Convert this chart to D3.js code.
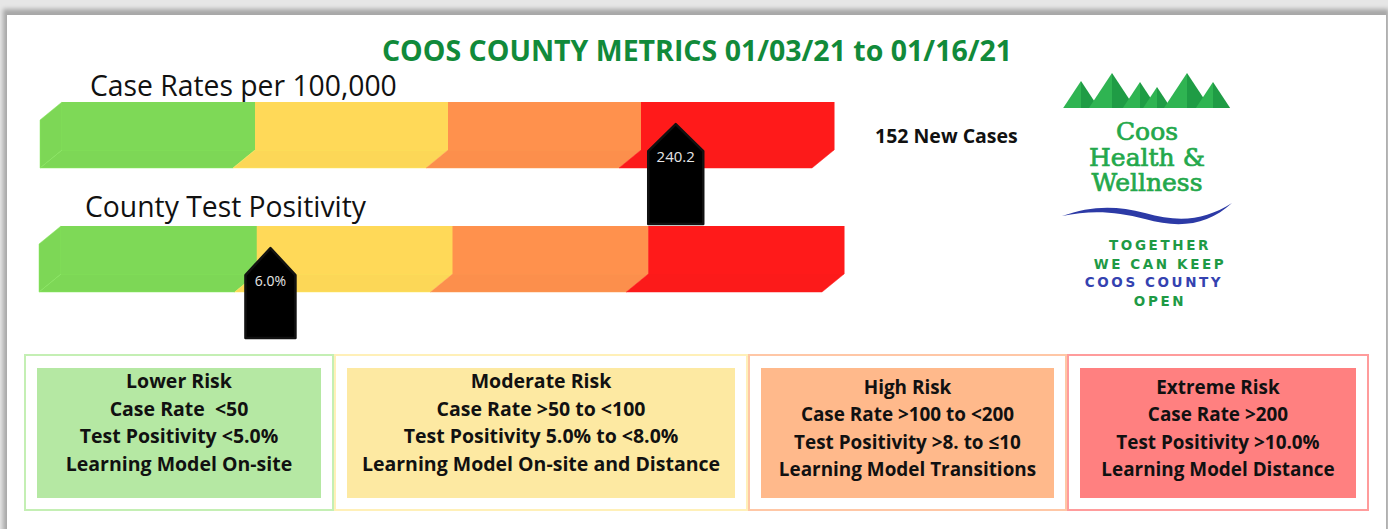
<!DOCTYPE html>
<html>
<head>
<meta charset="utf-8">
<script src="https://cdn.jsdelivr.net/npm/d3@7"></script>
<style>
  body { margin: 0; background: #e6e6e6; overflow: hidden; }
  svg { display: block; }
</style>
</head>
<body>
<div class="canvas"></div>
<script>
var width = 1388;
var height = 529;

// risk levels + colours
const riskLevels = ["Lower Risk", "Moderate Risk", "High Risk", "Extreme Risk"];
const barColors = ["#7ed957", "#ffd958", "#ff914d", "#ff1a1a"];
const boxFills = ["#b5e8a3", "#fde9a2", "#ffb98b", "#ff8080"];
const boxStrokes = ["#c4efb4", "#fff0b8", "#ffc7a6", "#ff9c9c"];

// rule text for each box
const caseRateRules = ["Case Rate  <50", "Case Rate >50 to <100", "Case Rate >100 to <200", "Case Rate >200"];
const positivityRules = ["Test Positivity <5.0%", "Test Positivity 5.0% to <8.0%", "Test Positivity >8. to \u226410", "Test Positivity >10.0%"];
const learningModels = ["Learning Model On-site", "Learning Model On-site and Distance", "Learning Model Transitions", "Learning Model Distance"];

// the two meters
const meterLabels = ["Case Rates per 100,000", "County Test Positivity"];
const meterValues = ["240.2", "6.0%"];
const meterLevels = ["Extreme Risk", "Moderate Risk"];
const meterPos = [0.18, 0.07];   // where the marker sits inside its band
const newCases = 152;

const title = "COOS COUNTY METRICS 01/03/21 to 01/16/21";

var svg = d3.select(".canvas").append("svg")
    .attr("width", width)
    .attr("height", height);

// card + shadow
var defs = svg.append("defs");
defs.append("filter").attr("id", "blur").append("feGaussianBlur").attr("stdDeviation", 2);
svg.append("rect").attr("x", 3).attr("y", 9).attr("width", 1386).attr("height", 540)
    .attr("fill", "#a8a8a8").attr("filter", "url(#blur)");
svg.append("rect").attr("x", 7).attr("y", 15).attr("width", 1379).attr("height", 530)
    .attr("fill", "#fff");

svg.append("text")
    .attr("x", 697).attr("y", 61)
    .attr("text-anchor", "middle")
    .style("font-family", "Open Sans").style("font-weight", 700).style("font-size", "28.5px")
    .attr("fill", "#118a3a")
    .text(title);

// meters
const meterRange = [[62, 834], [61, 844]];
const meterTop = [102, 226];
const labelPos = [[90, 96], [85, 217]];
const faceH = 48, dx = -22, dy = 18;
const markerW = [55, 50], markerH = [100, 90];

meterLabels.forEach((lab, i) => {
    var g = svg.append("g");
    var x = d3.scaleBand().domain(riskLevels).range(meterRange[i]);
    var color = d3.scaleOrdinal().domain(riskLevels).range(barColors);
    var y0 = meterTop[i];

    g.append("text")
        .attr("x", labelPos[i][0]).attr("y", labelPos[i][1])
        .style("font-family", "Open Sans").style("font-size", "28.3px")
        .attr("fill", "#111")
        .text(lab);

    // bottom faces
    g.selectAll("path.bottom")
        .data(riskLevels)
        .enter().append("path")
        .attr("class", "bottom")
        .attr("d", d => {
            var a = x(d), b = x(d) + x.bandwidth();
            return `M${a},${y0 + faceH}L${b},${y0 + faceH}L${b + dx},${y0 + faceH + dy}L${a + dx},${y0 + faceH + dy}Z`;
        })
        .attr("fill", d => d3.color(color(d)).darker(0.03))
        .attr("stroke", d => d3.color(color(d)).brighter(0.2)).attr("stroke-width", 0.5);

    // left face of first segment
    var a0 = x(riskLevels[0]);
    g.append("path")
        .attr("d", `M${a0},${y0}L${a0},${y0 + faceH}L${a0 + dx},${y0 + faceH + dy}L${a0 + dx},${y0 + dy}Z`)
        .attr("fill", d3.color(barColors[0]).darker(0.02))
        .attr("stroke", d3.color(barColors[0]).brighter(0.2)).attr("stroke-width", 0.5);

    // front faces
    g.selectAll("rect.front")
        .data(riskLevels)
        .enter().append("rect")
        .attr("class", "front")
        .attr("x", d => x(d)).attr("y", y0)
        .attr("width", x.bandwidth() + 0.5).attr("height", faceH)
        .attr("fill", d => color(d));

    // marker
    var mx = x(meterLevels[i]) + meterPos[i] * x.bandwidth();
    var ty = y0 + faceH * 0.46;
    var w = markerW[i] / 2, sh = 27;
    g.append("path")
        .attr("d", `M${mx},${ty}L${mx + w},${ty + sh}L${mx + w},${ty + markerH[i]}L${mx - w},${ty + markerH[i]}L${mx - w},${ty + sh}Z`)
        .attr("fill", "#000").attr("stroke", "#111").attr("stroke-width", 2.5)
        .attr("stroke-linejoin", "round");
    g.append("text")
        .attr("x", mx).attr("y", ty + sh + 11)
        .attr("text-anchor", "middle")
        .style("font-family", "Open Sans").style("font-size", i == 0 ? "15px" : "14px")
        .attr("fill", "#e6e6e6")
        .text(meterValues[i]);
});

svg.append("text")
    .attr("x", 875).attr("y", 143)
    .style("font-family", "Open Sans").style("font-weight", 700).style("font-size", "19.5px")
    .attr("fill", "#111")
    .text(newCases + " New Cases");

// risk boxes
const boxEdges = [24, 334, 748, 1067, 1369];
const boxTop = 355, boxBot = 510;
const textTop = [381, 381, 387, 387];
const squeeze = [1, 1, 0.97, 0.97];

riskLevels.forEach((lvl, i) => {
    var x0 = boxEdges[i] + 1, x1 = boxEdges[i + 1] - 1;
    var g = svg.append("g");
    g.append("rect")
        .attr("x", x0).attr("y", boxTop).attr("width", x1 - x0).attr("height", boxBot - boxTop)
        .attr("fill", "#fff").attr("stroke", boxStrokes[i]).attr("stroke-width", 2);
    g.append("rect")
        .attr("x", x0 + 12).attr("y", boxTop + 13).attr("width", x1 - x0 - 24).attr("height", boxBot - boxTop - 25)
        .attr("fill", boxFills[i]);
    var cx = (x0 + x1) / 2;
    var lines = [lvl, caseRateRules[i], positivityRules[i], learningModels[i]];
    var t = g.append("g").attr("transform", `translate(${cx},0) scale(${squeeze[i]},1)`);
    t.selectAll("text")
        .data(lines)
        .enter().append("text")
        .attr("x", 0).attr("y", (d, k) => textTop[i] + 7 + k * 27.5)
        .attr("text-anchor", "middle")
        .style("white-space", "pre")
        .style("font-family", "Open Sans").style("font-weight", 700).style("font-size", "19.5px")
        .attr("fill", "#111")
        .text(d => d);
});

// logo
var logo = svg.append("g");
const peaks = [[1081, 81], [1112, 73], [1140, 82], [1157, 87], [1187, 73], [1213, 82]];
const base = 108;
peaks.forEach(p => {
    var hw = (base - p[1]) * 0.66;
    logo.append("path").attr("d", `M${p[0]},${p[1]}L${p[0]},${base}L${p[0] - hw},${base}Z`).attr("fill", "#2fb452");
    logo.append("path").attr("d", `M${p[0]},${p[1]}L${p[0] + hw},${base}L${p[0]},${base}Z`).attr("fill", "#1f9c45");
});
var brand = logo.append("text")
    .attr("text-anchor", "middle")
    .style("font-family", "DejaVu Serif").style("font-size", "25px")
    .attr("fill", "#24a84b").attr("stroke", "#24a84b").attr("stroke-width", 0.7);
["Coos", "Health &", "Wellness"].forEach((s, k) => {
    brand.append("tspan")
        .attr("x", 1147).attr("y", [140, 166, 191][k])
        .text(s);
});
logo.append("path")
    .attr("d", "M1062,216 C1090,206 1115,205 1145,213 C1180,223 1205,220 1232,203 C1208,225 1180,229 1145,219 C1115,211 1090,210 1062,216 Z")
    .attr("fill", "#2c3aa6");
const tagLines = ["TOGETHER", "WE CAN KEEP", "COOS COUNTY", "OPEN"];
const tagColors = ["#1e9a45", "#1e9a45", "#3442b0", "#1e9a45"];
const tagX = [1160, 1160, 1154, 1160];
tagLines.forEach((s, k) => {
    logo.append("text")
        .attr("x", tagX[k]).attr("y", 250 + k * 18.5)
        .attr("text-anchor", "middle")
        .style("font-family", "DejaVu Sans").style("font-weight", 700).style("font-size", "13.5px")
        .style("letter-spacing", "2.6px")
        .attr("fill", tagColors[k])
        .text(s);
});
</script>
</body>
</html>
